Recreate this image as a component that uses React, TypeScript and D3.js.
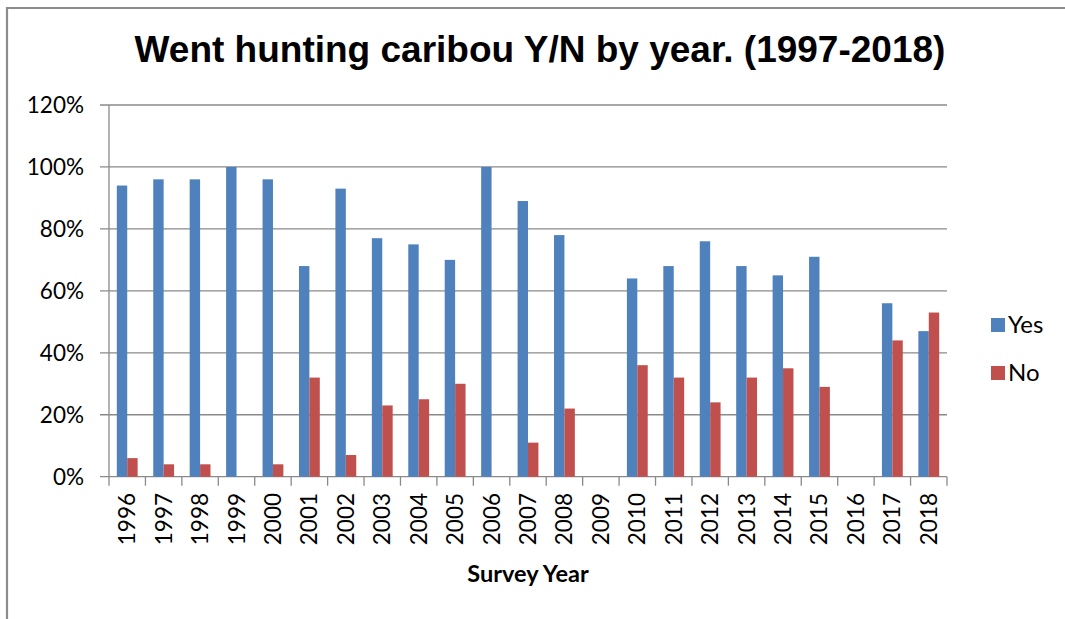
import React from "react";
import * as d3 from "d3";

const years = ["1996","1997","1998","1999","2000","2001","2002","2003","2004","2005","2006","2007","2008","2009","2010","2011","2012","2013","2014","2015","2016","2017","2018"];
const yesValues: (number | null)[] = [94,96,96,100,96,68,93,77,75,70,100,89,78,null,64,68,76,68,65,71,null,56,47];
const noValues: (number | null)[] = [6,4,4,0,4,32,7,23,25,30,0,11,22,null,36,32,24,32,35,29,null,44,53];
const yTicks = [0,20,40,60,80,100,120];
const seriesNames = ["Yes","No"];
const seriesColors = ["#4F81BD","#C0504D"];
const title = "Went hunting caribou Y/N by year. (1997-2018)";
const xTitle = "Survey Year";

export default function App() {
  const W = 1065, H = 619;
  const left = 109, right = 947, top = 105, bottom = 476.7;
  const x = d3.scaleBand<string>().domain(years).range([left, right]).paddingInner(0).paddingOuter(0);
  const y = d3.scaleLinear().domain([0, 120]).range([bottom, top]);
  const bw = x.bandwidth() / 3.5;
  const series = [yesValues, noValues];
  const font = "Lato, 'Open Sans', sans-serif";
  return (
    <svg width={W} height={H} style={{ position: "absolute", left: 0, top: 0, background: "#fff" }}>
      <rect x={0} y={0} width={W} height={H} fill="#fff" />
      <path d={`M7,${H} V8 H${W}`} fill="none" stroke="#8c8c8c" strokeWidth={2.2} />
      <text x={540} y={62} textAnchor="middle" fontFamily="'Liberation Sans', Arial, sans-serif" fontWeight="bold" fontSize={37} fill="#000">{title}</text>
      {yTicks.map(t => (
        <g key={t}>
          <line x1={100} x2={right} y1={y(t)} y2={y(t)} stroke="#8a8a8a" strokeWidth={1.3} />
          <text x={84} y={y(t) + 8} textAnchor="end" fontFamily={font} fontSize={22.5} fill="#000">{t + "%"}</text>
        </g>
      ))}
      <line x1={left} x2={left} y1={top} y2={bottom} stroke="#8a8a8a" strokeWidth={1.3} />
      {years.map((yr, i) => (
        <line key={"t" + yr} x1={x(yr)!} x2={x(yr)!} y1={bottom} y2={bottom + 9} stroke="#8a8a8a" strokeWidth={1.3} />
      ))}
      <line x1={right} x2={right} y1={bottom} y2={bottom + 9} stroke="#8a8a8a" strokeWidth={1.3} />
      {series.map((vals, s) => (
        <g key={s}>
          {vals.map((v, i) => v == null || v === 0 ? null : (
            <rect key={i}
              x={x(years[i])! + bw * 0.75 + s * bw}
              y={y(v)}
              width={bw}
              height={bottom - y(v)}
              fill={seriesColors[s]} />
          ))}
        </g>
      ))}
      {years.map(yr => {
        const cx = x(yr)! + x.bandwidth() / 2;
        return (
          <text key={"l" + yr} transform={`translate(${cx + 8},${493}) rotate(-90)`} textAnchor="end" fontFamily={font} fontSize={22.5} fill="#000">{yr}</text>
        );
      })}
      <text x={528} y={582} textAnchor="middle" fontFamily={font} fontWeight="bold" fontSize={23.5} fill="#000">{xTitle}</text>
      {seriesNames.map((n, s) => (
        <g key={n}>
          <rect x={991} y={318 + s * 48} width={14} height={14} fill={seriesColors[s]} />
          <text x={1008} y={333 + s * 48} fontFamily={font} fontSize={24} fill="#000">{n}</text>
        </g>
      ))}
    </svg>
  );
}
